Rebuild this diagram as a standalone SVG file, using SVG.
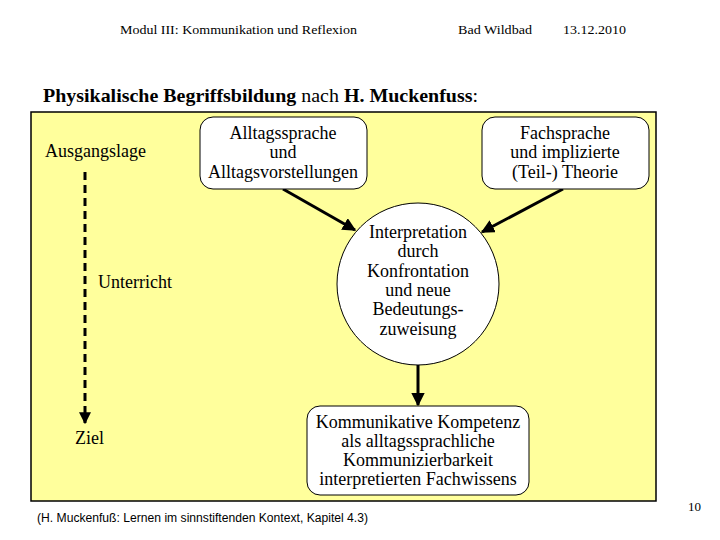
<svg xmlns="http://www.w3.org/2000/svg" width="720" height="540" viewBox="0 0 720 540">
<defs>
<style>
.s{font-family:"Liberation Serif","Times New Roman",serif;fill:#000}
.n{font-size:18px;text-anchor:middle}
.box{fill:#fff;stroke:#000;stroke-width:1}
.con{stroke:#000;stroke-width:3;fill:none}
</style>
<marker id="ah" viewBox="0 0 10 10" refX="9" refY="5" markerWidth="4.5" markerHeight="4.5" orient="auto" markerUnits="strokeWidth">
<path d="M0,0 L10,5 L0,10 z" fill="#000"/>
</marker>
<marker id="ahs" viewBox="0 0 10 10" refX="9" refY="5" markerWidth="4" markerHeight="4" orient="auto" markerUnits="strokeWidth">
<path d="M0,0 L10,5 L0,10 z" fill="#000"/>
</marker>
</defs>
<rect width="720" height="540" fill="#fff"/>
<text class="s" x="120" y="34" font-size="13" textLength="237" lengthAdjust="spacingAndGlyphs">Modul III: Kommunikation und Reflexion</text>
<text class="s" x="458" y="34" font-size="13" textLength="74" lengthAdjust="spacingAndGlyphs">Bad Wildbad</text>
<text class="s" x="563" y="34" font-size="13" textLength="63" lengthAdjust="spacingAndGlyphs">13.12.2010</text>
<text class="s" x="43" y="102" font-size="19" textLength="435" lengthAdjust="spacingAndGlyphs"><tspan font-weight="bold">Physikalische Begriffsbildung</tspan> nach <tspan font-weight="bold">H. Muckenfuss</tspan>:</text>
<rect id="panel" x="31" y="112" width="625" height="389" fill="#FFFF9C" stroke="#000" stroke-width="1.5"/>
<g id="ausgangslage"><text class="s" x="45" y="157" font-size="18">Ausgangslage</text></g>
<g id="unterricht"><text class="s" x="98" y="288" font-size="18">Unterricht</text></g>
<g id="ziel"><text class="s" x="75" y="444" font-size="18">Ziel</text></g>
<g id="connectors">
<line class="con" x1="85" y1="172" x2="85" y2="423" stroke-width="2.5" stroke-dasharray="8,5" marker-end="url(#ahs)"/>
<line class="con" x1="283" y1="189" x2="355" y2="230" marker-end="url(#ah)"/>
<line class="con" x1="563" y1="189" x2="482" y2="232" marker-end="url(#ah)"/>
<line class="con" x1="418" y1="364" x2="418" y2="405" marker-end="url(#ah)"/>
</g>
<g id="alltag">
<rect class="box" x="200" y="117" width="167" height="72" rx="13"/>
<text class="s n" x="283" y="139">Alltagssprache</text>
<text class="s n" x="283" y="158">und</text>
<text class="s n" x="283" y="178">Alltagsvorstellungen</text>
</g>
<g id="fach">
<rect class="box" x="482" y="117" width="167" height="72" rx="13"/>
<text class="s n" x="565" y="139">Fachsprache</text>
<text class="s n" x="565" y="158">und implizierte</text>
<text class="s n" x="565" y="178">(Teil-) Theorie</text>
</g>
<g id="interpretation">
<circle class="box" cx="418" cy="284" r="81"/>
<text class="s n" x="418" y="238">Interpretation</text>
<text class="s n" x="418" y="257">durch</text>
<text class="s n" x="418" y="277">Konfrontation</text>
<text class="s n" x="418" y="296">und neue</text>
<text class="s n" x="418" y="315">Bedeutungs-</text>
<text class="s n" x="418" y="335">zuweisung</text>
</g>
<g id="kompetenz">
<rect class="box" x="307" y="406" width="222" height="89" rx="13"/>
<text class="s n" x="418" y="428">Kommunikative Kompetenz</text>
<text class="s n" x="418" y="447">als alltagssprachliche</text>
<text class="s n" x="418" y="466">Kommunizierbarkeit</text>
<text class="s n" x="418" y="485">interpretierten Fachwissens</text>
</g>
<text x="37" y="522" font-family="Liberation Sans, Arial, sans-serif" font-size="12" textLength="331" lengthAdjust="spacingAndGlyphs">(H. Muckenfuß: Lernen im sinnstiftenden Kontext, Kapitel 4.3)</text>
<text class="s" x="688" y="511" font-size="13">10</text>
</svg>
